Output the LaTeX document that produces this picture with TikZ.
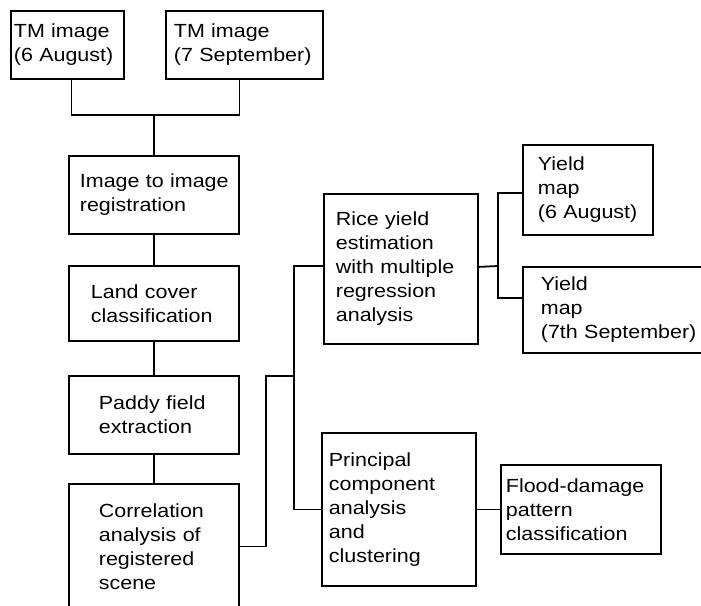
\documentclass[tikz,border=0pt]{standalone}
\usepackage{fontspec}
\setmainfont[FakeStretch=1.13]{Liberation Sans}
\usetikzlibrary{positioning}
\hyphenpenalty=10000
\exhyphenpenalty=10000

\begin{document}
\begin{tikzpicture}[x=1pt,y=-1pt,line width=1.8pt,
    every node/.style={draw,rectangle,anchor=north west,align=left,inner ysep=0pt,font=\fontsize{19}{24}\selectfont}]
    \useasboundingbox (0,0) rectangle (701,605);
    \clip (0,0) rectangle (701,605);

    \node(tma)[inner xsep=3pt,text width=107pt,minimum height=68pt] at (10,10) {TM image\\(6~August)};
    \node(tmb)[inner xsep=8pt,text width=141pt,minimum height=68pt] at (165,10) {TM image\\(7~September)};

    \node(reg)[inner xsep=11pt,text width=148pt,minimum height=78pt] at (68,155) {Image~to~image\\registration};
    \node(land)[inner xsep=22pt,text width=126pt,minimum height=75pt] at (68,265) {Land cover\\classification};
    \node(paddy)[inner xsep=30pt,text width=110pt,minimum height=78pt] at (68,375) {Paddy~field\\extraction};
    \node(corr)[inner xsep=30pt,text width=110pt,minimum height=125pt] at (68,483) {Correlation\\analysis of\\registered\\scene};

    \node(rice)[inner xsep=12pt,text width=130pt,minimum height=150pt] at (323,193) {Rice yield\\estimation\\with~multiple\\regression\\analysis};
    \node(pca)[inner xsep=7pt,text width=140pt,minimum height=153pt] at (321,432) {Principal\\component\\analysis\\and\\clustering};

    \node(ya)[inner xsep=15pt,text width=100pt,minimum height=90pt] at (522,144) {Yield\\map\\(6~August)};
    \node(yb)[inner xsep=18pt,text width=164pt,minimum height=86pt] at (522,266) {Yield\\map\\(7th~September)};
    \node(flood)[inner xsep=5pt,text width=150pt,minimum height=89pt] at (500,464) {Flood-damage\\pattern\\classification};

    \coordinate(j1) at ([yshift=40pt]reg.north);
    \coordinate(k2) at (266,376);
    \coordinate(j2) at (294,376);
    \coordinate(j3) at (498,266);

    \path[draw=black]([xshift=4pt]tma.south) |- (j1);
    \path[draw=black]([xshift=-5pt]tmb.south) |- (j1);
    \path[draw=black](j1) -- (reg.north);
    \path[draw=black](reg.south) -- (land.north);
    \path[draw=black](land.south) -- (paddy.north);
    \path[draw=black](paddy.south) -- (corr.north);

    \path[draw=black](corr.east) -| (k2) -- (j2);
    \path[draw=black]([yshift=3pt]rice.west) -| (j2) |- (pca.west);

    \path[draw=black]([yshift=2pt]rice.east) -- (j3);
    \path[draw=black]([yshift=-3pt]ya.west) -| (j3) |- ([yshift=12pt]yb.west);
    \path[draw=black](pca.east) -- (flood.west);

  \end{tikzpicture}
\end{document}
